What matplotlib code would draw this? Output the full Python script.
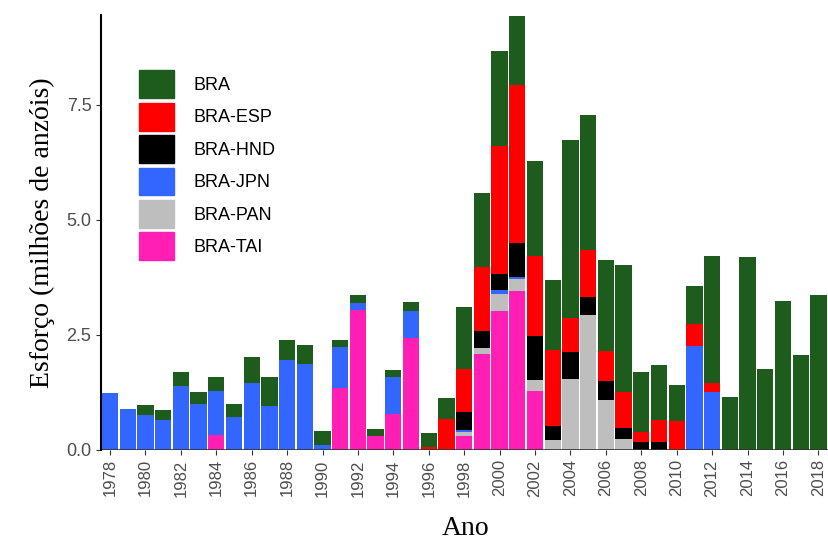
import numpy as np
import matplotlib.pyplot as plt
from matplotlib.patches import Patch

years = list(range(1978, 2019))

# values in million hooks, per fleet (stack order bottom -> top)
tai = [0, 0, 0, 0, 0, 0, 0.32, 0, 0, 0, 0, 0, 0, 1.33, 3.03, 0.30, 0.78, 2.42, 0, 0,
       0.30, 2.07, 3.01, 3.44, 1.28, 0, 0, 0, 0, 0, 0, 0, 0, 0, 0, 0, 0, 0, 0, 0, 0]
pan = [0] * 20 + [0.09, 0.13, 0.37, 0.27, 0.24, 0.21, 1.53, 2.92, 1.07, 0.23,
                  0, 0, 0, 0, 0, 0, 0, 0, 0, 0, 0]
jpn = [1.22, 0.89, 0.76, 0.64, 1.39, 1.00, 0.96, 0.70, 1.45, 0.94, 1.94, 1.87, 0.09,
       0.90, 0.16, 0, 0.79, 0.59, 0, 0,
       0.04, 0, 0.10, 0.05, 0, 0, 0, 0, 0, 0, 0, 0, 0, 2.26, 1.25, 0, 0, 0, 0, 0, 0]
hnd = [0] * 20 + [0.38, 0.37, 0.34, 0.74, 0.94, 0.31, 0.59, 0.39, 0.43, 0.23,
                  0.16, 0.16, 0, 0, 0, 0, 0, 0, 0, 0, 0]
esp = [0] * 18 + [0.05, 0.67,
                  0.94, 1.41, 2.79, 3.43, 1.74, 1.65, 0.73, 1.04, 0.65, 0.79,
                  0.22, 0.49, 0.63, 0.47, 0.19, 0, 0, 0, 0, 0, 0]
bra = [0, 0, 0.20, 0.21, 0.30, 0.26, 0.30, 0.28, 0.57, 0.63, 0.44, 0.41, 0.32,
       0.15, 0.17, 0.15, 0.15, 0.19, 0.30, 0.46,
       1.36, 1.60, 2.06, 1.50, 2.08, 1.52, 3.89, 2.93, 1.97, 2.77,
       1.30, 1.19, 0.78, 0.82, 2.76, 1.15, 4.18, 1.75, 3.24, 2.06, 3.35]

series = [("BRA-TAI", tai, "#ff1fb4"), ("BRA-PAN", pan, "#bebebe"),
          ("BRA-JPN", jpn, "#3366ff"), ("BRA-HND", hnd, "#000000"),
          ("BRA-ESP", esp, "#ff0000"), ("BRA", bra, "#1e5c1e")]

fig = plt.figure(figsize=(8.29, 5.55), dpi=100)
ax = fig.add_axes([0.122, 0.19, 0.878, 0.783])

bottom = np.zeros(len(years))
for name, vals, col in series:
    ax.bar(years, vals, 0.92, bottom=bottom, color=col, linewidth=0)
    bottom += np.array(vals)

ax.set_xlim(1977.5, 2018.6)
ax.set_ylim(0, 9.45)
ax.set_yticks([0, 2.5, 5.0, 7.5])
ax.set_yticklabels(["0.0", "2.5", "5.0", "7.5"])
ax.set_xticks(range(1978, 2019, 2))
ax.tick_params(axis='x', rotation=90, labelsize=12, colors='#4d4d4d')
ax.tick_params(axis='y', labelsize=13, colors='#4d4d4d')
ax.tick_params(axis='both', color='#333333')
for lab in ax.get_xticklabels() + ax.get_yticklabels():
    lab.set_fontname("Liberation Sans")
for s in ["top", "right", "bottom"]:
    ax.spines[s].set_visible(False)
ax.spines["left"].set_linewidth(1.5)
ax.axhline(0, color='#333333', lw=1.2)

ax.set_ylabel("Esforço (milhões de anzóis)", fontname="Liberation Serif",
              fontsize=20, labelpad=8)
ax.set_xlabel("Ano", fontname="Liberation Serif", fontsize=20, labelpad=14)

handles = [Patch(color=c, label=n) for n, v, c in reversed(series)]
ax.legend(handles=handles, loc="upper left", bbox_to_anchor=(0.03, 0.91),
          frameon=False, prop={"family": "Liberation Sans", "size": 13},
          handlelength=1.9, handleheight=2.0,
          labelspacing=0.25, handletextpad=1.1)

fig.savefig("out.png", dpi=100)
